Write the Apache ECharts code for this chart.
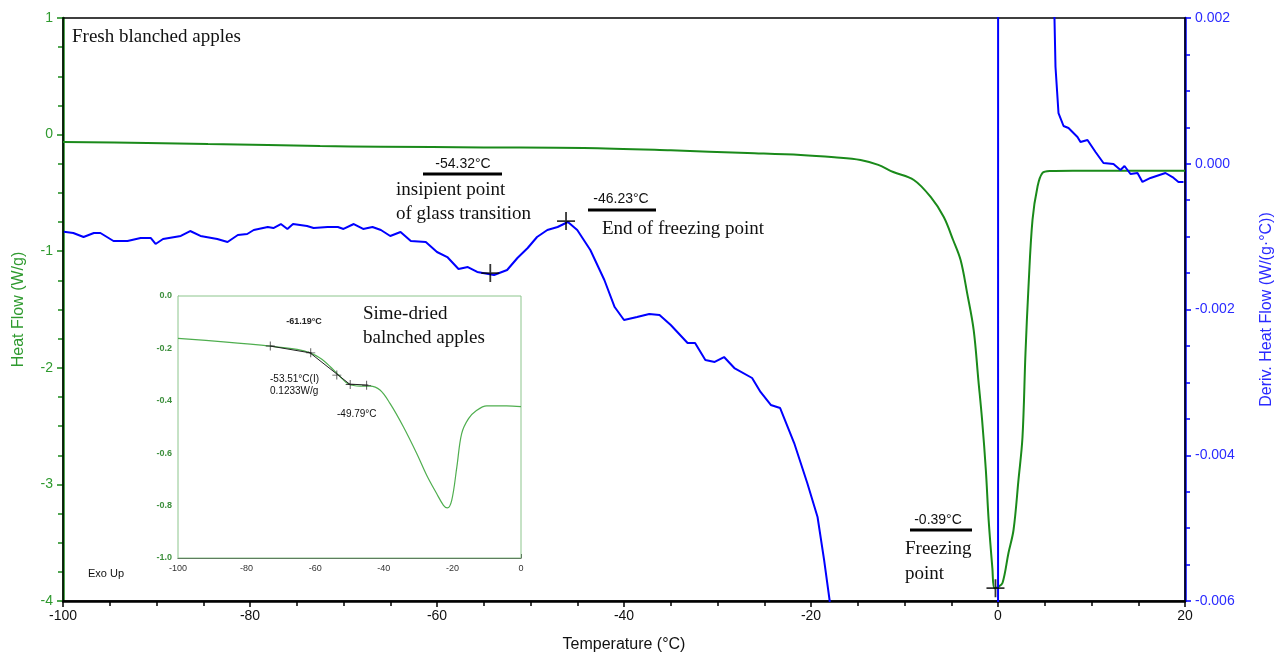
<!DOCTYPE html>
<html>
<head>
<meta charset="utf-8">
<script src="https://cdn.jsdelivr.net/npm/echarts@6/dist/echarts.min.js"></script>
<style>
  html, body { margin: 0; padding: 0; background: #fff; }
  #main { width: 1285px; height: 660px; }
</style>
</head>
<body>
<div id="main"></div>
<script>
// fresh blanched apples - heat flow (W/g)
var heatT = [-100, -91, -84.5, -78.1, -72.5, -66, -55, -44.3, -35, -26.8, -21.1, -17.5, -14.7, -12.8, -11.2, -9.0, -7.2, -5.8, -4.8, -4.0, -3.3, -2.6, -2.1, -1.7, -1.3, -1.0, -0.6, -0.39, 0.0, 0.48, 1.12, 1.66, 2.19, 2.62, 2.94, 3.26, 3.69, 4.22, 4.76, 5.61, 8, 20];
var heatFlow = [-0.063, -0.072, -0.081, -0.089, -0.098, -0.104, -0.110, -0.115, -0.135, -0.158, -0.175, -0.195, -0.218, -0.26, -0.321, -0.389, -0.535, -0.707, -0.904, -1.076, -1.359, -1.676, -2.105, -2.448, -2.877, -3.306, -3.72, -3.89, -3.88, -3.846, -3.588, -3.391, -2.962, -2.594, -1.873, -1.307, -0.732, -0.449, -0.329, -0.312, -0.31, -0.31];

// derivative heat flow (W/(g·°C)), goes off scale around 0 °C
var derivT = [-99.9, -98.9, -97.8, -96.7, -96.0, -94.6, -93.1, -91.7, -90.6, -90.1, -89.3, -87.4, -86.4, -85.3, -83.5, -82.4, -81.3, -80.3, -79.6, -78.1, -77.5, -76.7, -76.0, -75.4, -73.9, -73.2, -71.7, -70.6, -70.0, -68.9, -67.9, -66.9, -66.0, -65.0, -63.9, -62.8, -61.2, -60.0, -58.9, -57.7, -56.7, -55.7, -53.9, -52.5, -51.4, -50.3, -49.3, -48.2, -47.1, -46.0, -45.0, -43.6, -42.1, -41.0, -40.0, -38.6, -37.3, -36.2, -35.0, -33.2, -32.4, -31.3, -30.3, -29.3, -28.2, -26.3, -25.4, -24.3, -23.3, -21.8, -20.4, -19.3, -18.6, -18.0, -17.8, 0.0, 0.02, 5.9, 6.04, 6.15, 6.47, 7.01, 7.54, 8.50, 8.82, 9.57, 10.43, 11.28, 12.35, 13.10, 13.53, 14.17, 14.92, 15.45, 16.31, 17.91, 18.66, 19.30, 19.84];
var derivFlow = [-0.000932, -0.000950, -0.001005, -0.000950, -0.000950, -0.001060, -0.001060, -0.001019, -0.001019, -0.001101, -0.001033, -0.000991, -0.000923, -0.000991, -0.001033, -0.001074, -0.000978, -0.000964, -0.000909, -0.000868, -0.000882, -0.000827, -0.000895, -0.000827, -0.000854, -0.000882, -0.000868, -0.000868, -0.000895, -0.000827, -0.000895, -0.000868, -0.000909, -0.000991, -0.000936, -0.001060, -0.001074, -0.001211, -0.001280, -0.001444, -0.001417, -0.001485, -0.001527, -0.001458, -0.001293, -0.001156, -0.001005, -0.000909, -0.000868, -0.000799, -0.000909, -0.001184, -0.001595, -0.001966, -0.002144, -0.002103, -0.002062, -0.002075, -0.002213, -0.002460, -0.002460, -0.002693, -0.002720, -0.002652, -0.002803, -0.002940, -0.003132, -0.003310, -0.003352, -0.003832, -0.004381, -0.004847, -0.005437, -0.006000, -0.0075, -0.02, 0.02, 0.0045, 0.002, 0.001328, 0.000696, 0.000518, 0.000491, 0.000367, 0.000298, 0.000326, 0.000161, 0.000010, -0.000003, -0.000086, -0.000031, -0.000141, -0.000127, -0.000250, -0.000195, -0.000127, -0.000182, -0.000250, -0.000250];

// inset: semi-dried blanched apples
var insetT = [-100, -86.7, -73.1, -65.3, -61.5, -58.5, -55.6, -52.7, -50.3, -46.9, -44.0, -41.1, -38.2, -34.3, -30.4, -27.5, -24.6, -22.6, -21.5, -20.2, -18.7, -17.3, -15.3, -12.9, -10.0, -4.2, 0];
var insetFlow = [-0.162, -0.175, -0.191, -0.204, -0.217, -0.238, -0.270, -0.308, -0.336, -0.344, -0.344, -0.359, -0.410, -0.499, -0.601, -0.684, -0.754, -0.799, -0.809, -0.780, -0.652, -0.525, -0.468, -0.436, -0.419, -0.419, -0.422];
var tangent1 = [[-73.1, -0.191], [-61.0, -0.218]];
var tangent2 = [[-61.9, -0.213], [-49.8, -0.338]];
var tangent3 = [[-50.5, -0.336], [-44.5, -0.340]];
var insetMarks = [[-73.1, -0.191], [-61.3, -0.217], [-53.7, -0.302], [-49.8, -0.338], [-45.0, -0.341]];

// marked points on the main curves
var derivMarks = [[-54.3, -0.00150], [-46.2, -0.000786]];
var heatMarks = [[-0.27, -3.89]];

var plus = 'path://M9,0h2v9h9v2h-9v9h-2v-9h-9v-2h9z';
var sans = '"Liberation Sans", Arial, sans-serif';
var serif = '"Liberation Serif", "Times New Roman", serif';

function zip(a, b) { return a.map(function (v, i) { return [v, b[i]]; }); }

function txt(x, y, s, size, family, align) {
  return {
    type: 'text', x: x, y: y, z: 100,
    style: { text: s, font: size + 'px ' + family, fill: '#111', textAlign: align || 'left', textVerticalAlign: 'middle' }
  };
}
function bar(x1, x2, y) {
  return { type: 'rect', z: 100, shape: { x: x1, y: y - 1.5, width: x2 - x1, height: 3 }, style: { fill: '#000' } };
}

var chart = echarts.init(document.getElementById('main'));
chart.setOption({
  animation: false,
  backgroundColor: '#fff',
  grid: [
    { left: 63, right: 100, top: 18, bottom: 59, show: true, borderColor: '#000', borderWidth: 1.5, z: 1, containLabel: false, outerBoundsMode: 'none' },
    { left: 178, top: 296, width: 343, height: 262, show: true, backgroundColor: '#fff', borderColor: '#8cc58c', borderWidth: 1, z: 5, containLabel: false, outerBoundsMode: 'none' }
  ],
  xAxis: [
    {
      type: 'value', gridIndex: 0, min: -100, max: 20, interval: 20,
      name: 'Temperature (°C)', nameLocation: 'middle', nameGap: 36,
      nameTextStyle: { color: '#111', fontSize: 16, fontFamily: sans },
      axisLine: { onZero: false, lineStyle: { color: '#000', width: 2.5 } },
      axisTick: { inside: false, length: 6, lineStyle: { color: '#000', width: 1.5 } },
      minorTick: { show: true, splitNumber: 4, length: 5, lineStyle: { color: '#000', width: 1.5 } },
      axisLabel: { color: '#111', fontSize: 14, fontFamily: sans, margin: 8 },
      splitLine: { show: false }
    },
    {
      type: 'value', gridIndex: 1, min: -100, max: 0, interval: 20,
      axisLine: { onZero: false, lineStyle: { color: '#333', width: 1 } },
      axisTick: { inside: true, length: 4, lineStyle: { color: '#333' } },
      minorTick: { show: true, splitNumber: 4, length: 3, lineStyle: { color: '#333' } },
      axisLabel: { color: '#333', fontSize: 9, fontFamily: sans, margin: 6 },
      splitLine: { show: false }
    }
  ],
  yAxis: [
    {
      type: 'value', gridIndex: 0, min: -4, max: 1, interval: 1,
      name: 'Heat Flow (W/g)', nameLocation: 'middle', nameGap: 36,
      nameTextStyle: { color: '#2f9a2f', fontSize: 16, fontFamily: sans },
      axisLine: { onZero: false, lineStyle: { color: '#1a8a1a', width: 2.5 } },
      axisTick: { inside: false, length: 6, lineStyle: { color: '#1a8a1a', width: 1.5 } },
      minorTick: { show: true, splitNumber: 4, length: 5, lineStyle: { color: '#1a8a1a', width: 1.5 } },
      axisLabel: { color: '#2f9a2f', fontSize: 14, fontFamily: sans, margin: 10 },
      splitLine: { show: false }
    },
    {
      type: 'value', gridIndex: 0, position: 'right', min: -0.006, max: 0.002, interval: 0.002,
      name: 'Deriv. Heat Flow (W/(g·°C))', nameLocation: 'middle', nameGap: 74, nameRotate: 90,
      nameTextStyle: { color: '#2a2aff', fontSize: 16, fontFamily: sans },
      axisLine: { onZero: false, lineStyle: { color: '#0000ff', width: 2.5 } },
      axisTick: { inside: false, length: 6, lineStyle: { color: '#0000ff', width: 1.5 } },
      minorTick: { show: true, splitNumber: 4, length: 5, lineStyle: { color: '#0000ff', width: 1.5 } },
      axisLabel: { color: '#2a2aff', fontSize: 14, fontFamily: sans, margin: 10, formatter: function (v) { return v.toFixed(3); } },
      splitLine: { show: false }
    },
    {
      type: 'value', gridIndex: 1, min: -1, max: 0, interval: 0.2,
      axisLine: { onZero: false, lineStyle: { color: '#6cbf6c', width: 1 } },
      axisTick: { inside: true, length: 4, lineStyle: { color: '#333' } },
      minorTick: { show: true, splitNumber: 4, length: 2, lineStyle: { color: '#333' } },
      axisLabel: { color: '#3d8f3d', fontSize: 9, fontWeight: 'bold', fontFamily: sans, margin: 6, formatter: function (v) { return v.toFixed(1); } },
      splitLine: { show: false }
    }
  ],
  series: [
    {
      type: 'line', xAxisIndex: 0, yAxisIndex: 0, data: zip(heatT, heatFlow),
      showSymbol: false, smooth: 0.35, z: 2,
      lineStyle: { color: '#1a8a1a', width: 2 }
    },
    {
      type: 'line', xAxisIndex: 0, yAxisIndex: 1, data: zip(derivT, derivFlow),
      showSymbol: false, z: 3, clip: true,
      lineStyle: { color: '#0000ff', width: 2 }
    },
    {
      type: 'scatter', xAxisIndex: 0, yAxisIndex: 1, data: derivMarks, z: 4,
      symbol: plus, symbolSize: 18, itemStyle: { color: '#000' }
    },
    {
      type: 'scatter', xAxisIndex: 0, yAxisIndex: 0, data: heatMarks, z: 4,
      symbol: plus, symbolSize: 18, itemStyle: { color: '#000' }
    },
    {
      type: 'line', xAxisIndex: 1, yAxisIndex: 2, data: zip(insetT, insetFlow),
      showSymbol: false, smooth: 0.35, z: 6,
      lineStyle: { color: '#4fae4f', width: 1.2 }
    },
    {
      type: 'line', xAxisIndex: 1, yAxisIndex: 2, data: tangent1, showSymbol: false, z: 7,
      lineStyle: { color: '#222', width: 1 }
    },
    {
      type: 'line', xAxisIndex: 1, yAxisIndex: 2, data: tangent2, showSymbol: false, z: 7,
      lineStyle: { color: '#222', width: 1 }
    },
    {
      type: 'line', xAxisIndex: 1, yAxisIndex: 2, data: tangent3, showSymbol: false, z: 7,
      lineStyle: { color: '#222', width: 1 }
    },
    {
      type: 'scatter', xAxisIndex: 1, yAxisIndex: 2, data: insetMarks, z: 8,
      symbol: plus, symbolSize: 9, itemStyle: { color: '#222' }
    }
  ],
  graphic: [
    txt(72, 37, 'Fresh blanched apples', 19, serif),
    txt(463, 164, '-54.32°C', 14, sans, 'center'),
    bar(423, 502, 174),
    txt(396, 190, 'insipient point', 19, serif),
    txt(396, 214, 'of glass transition', 19, serif),
    txt(621, 199, '-46.23°C', 14, sans, 'center'),
    bar(588, 656, 210),
    txt(602, 229, 'End of freezing point', 19, serif),
    txt(938, 520, '-0.39°C', 14, sans, 'center'),
    bar(910, 972, 530),
    txt(905, 549, 'Freezing', 19, serif),
    txt(905, 574, 'point', 19, serif),
    txt(363, 314, 'Sime-dried', 19, serif),
    txt(363, 338, 'balnched apples', 19, serif),
    { type: 'text', x: 304, y: 322, z: 100, style: { text: '-61.19°C', font: 'bold 9px ' + sans, fill: '#222', textAlign: 'center', textVerticalAlign: 'middle' } },
    txt(270, 379, '-53.51°C(I)', 10, sans),
    txt(270, 391, '0.1233W/g', 10, sans),
    txt(337, 414, '-49.79°C', 10, sans),
    txt(88, 574, 'Exo Up', 11, sans)
  ]
});
</script>
</body>
</html>
